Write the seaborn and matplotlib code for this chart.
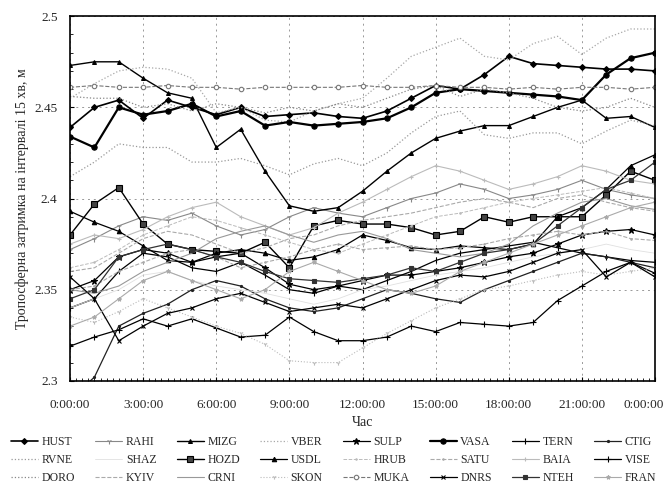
import matplotlib
matplotlib.use('Agg')
import matplotlib.pyplot as plt
import matplotlib.transforms as mtransforms
import seaborn as sns
from matplotlib.ticker import MultipleLocator, FixedLocator

# Години доби (вузли через 1 год)
hours = list(range(25))

HUST = [2.439, 2.450, 2.454, 2.444, 2.454, 2.450, 2.446, 2.450, 2.445, 2.446, 2.447, 2.445, 2.444,
        2.448, 2.455, 2.462, 2.460, 2.468, 2.478, 2.474, 2.473, 2.472, 2.471, 2.471, 2.470]
RAHI = [2.372, 2.378, 2.385, 2.390, 2.388, 2.392, 2.385, 2.380, 2.383, 2.390, 2.395, 2.392, 2.390,
        2.395, 2.400, 2.403, 2.408, 2.405, 2.400, 2.402, 2.405, 2.410, 2.405, 2.402, 2.400]
MIZG = [2.473, 2.475, 2.475, 2.466, 2.458, 2.455, 2.428, 2.438, 2.415, 2.396, 2.393, 2.395, 2.404,
        2.415, 2.425, 2.433, 2.437, 2.440, 2.440, 2.445, 2.450, 2.454, 2.444, 2.445, 2.439]
VBER = [2.455, 2.463, 2.470, 2.472, 2.471, 2.466, 2.447, 2.450, 2.443, 2.442, 2.448, 2.452, 2.455,
        2.466, 2.478, 2.483, 2.488, 2.478, 2.476, 2.485, 2.489, 2.479, 2.488, 2.493, 2.493]
SULP = [2.350, 2.355, 2.368, 2.372, 2.370, 2.365, 2.368, 2.370, 2.362, 2.353, 2.350, 2.352, 2.355,
        2.358, 2.358, 2.360, 2.362, 2.365, 2.368, 2.370, 2.375, 2.380, 2.382, 2.383, 2.380]
VASA = [2.434, 2.428, 2.450, 2.446, 2.448, 2.452, 2.445, 2.448, 2.440, 2.442, 2.440, 2.441, 2.442,
        2.444, 2.450, 2.458, 2.460, 2.459, 2.458, 2.457, 2.456, 2.454, 2.468, 2.477, 2.480]
TERN = [2.340, 2.345, 2.360, 2.370, 2.368, 2.362, 2.360, 2.365, 2.358, 2.350, 2.348, 2.352, 2.350,
        2.355, 2.360, 2.366, 2.370, 2.372, 2.374, 2.376, 2.373, 2.370, 2.368, 2.366, 2.365]
CTIG = [2.290, 2.302, 2.330, 2.337, 2.342, 2.350, 2.355, 2.352, 2.345, 2.340, 2.338, 2.340, 2.345,
        2.350, 2.348, 2.345, 2.343, 2.350, 2.355, 2.360, 2.365, 2.370, 2.368, 2.365, 2.362]
RVNE = [2.412, 2.420, 2.430, 2.428, 2.428, 2.420, 2.420, 2.422, 2.418, 2.413, 2.419, 2.422, 2.418,
        2.425, 2.436, 2.445, 2.448, 2.435, 2.433, 2.436, 2.436, 2.430, 2.437, 2.443, 2.440]
SHAZ = [2.340, 2.345, 2.350, 2.358, 2.360, 2.355, 2.352, 2.350, 2.348, 2.345, 2.342, 2.345, 2.350,
        2.352, 2.355, 2.358, 2.360, 2.362, 2.365, 2.368, 2.370, 2.372, 2.375, 2.372, 2.370]
HOZD = [2.380, 2.397, 2.406, 2.386, 2.375, 2.372, 2.371, 2.370, 2.376, 2.362, 2.385, 2.388, 2.386,
        2.386, 2.384, 2.380, 2.382, 2.390, 2.387, 2.390, 2.390, 2.390, 2.402, 2.415, 2.410]
USDL = [2.393, 2.387, 2.382, 2.374, 2.366, 2.365, 2.370, 2.372, 2.370, 2.366, 2.368, 2.372, 2.380,
        2.377, 2.373, 2.372, 2.374, 2.373, 2.372, 2.375, 2.390, 2.395, 2.405, 2.418, 2.424]
HRUB = [2.362, 2.365, 2.372, 2.380, 2.385, 2.390, 2.388, 2.384, 2.380, 2.376, 2.372, 2.370, 2.375,
        2.380, 2.385, 2.390, 2.392, 2.395, 2.398, 2.400, 2.402, 2.404, 2.406, 2.403, 2.400]
SATU = [2.350, 2.352, 2.360, 2.365, 2.370, 2.372, 2.368, 2.362, 2.365, 2.368, 2.372, 2.375, 2.372,
        2.373, 2.374, 2.372, 2.373, 2.375, 2.378, 2.380, 2.382, 2.380, 2.382, 2.378, 2.377]
BAIA = [2.375, 2.380, 2.378, 2.383, 2.390, 2.395, 2.398, 2.390, 2.385, 2.380, 2.384, 2.392, 2.398,
        2.405, 2.412, 2.418, 2.415, 2.410, 2.405, 2.408, 2.412, 2.418, 2.415, 2.410, 2.408]
VISE = [2.319, 2.324, 2.328, 2.334, 2.330, 2.334, 2.329, 2.324, 2.325, 2.335, 2.327, 2.322, 2.322,
        2.324, 2.330, 2.327, 2.332, 2.331, 2.330, 2.332, 2.344, 2.352, 2.360, 2.365, 2.359]
DORO = [2.456, 2.455, 2.455, 2.450, 2.452, 2.448, 2.452, 2.450, 2.447, 2.450, 2.448, 2.452, 2.450,
        2.455, 2.460, 2.462, 2.456, 2.460, 2.458, 2.455, 2.450, 2.448, 2.450, 2.455, 2.450]
KYIV = [2.360, 2.362, 2.370, 2.378, 2.382, 2.380, 2.375, 2.370, 2.373, 2.378, 2.380, 2.385, 2.388,
        2.390, 2.392, 2.395, 2.398, 2.400, 2.398, 2.395, 2.400, 2.402, 2.398, 2.395, 2.393]
CRNI = [2.350, 2.348, 2.352, 2.360, 2.365, 2.370, 2.378, 2.382, 2.385, 2.380, 2.376, 2.380, 2.382,
        2.378, 2.372, 2.370, 2.368, 2.370, 2.375, 2.385, 2.392, 2.398, 2.400, 2.396, 2.394]
SKON = [2.335, 2.332, 2.338, 2.345, 2.340, 2.335, 2.330, 2.326, 2.320, 2.311, 2.310, 2.310, 2.318,
        2.326, 2.333, 2.340, 2.345, 2.350, 2.352, 2.355, 2.358, 2.360, 2.358, 2.360, 2.362]
MUKA = [2.461, 2.462, 2.461, 2.461, 2.462, 2.461, 2.461, 2.460, 2.461, 2.461, 2.461, 2.461, 2.462,
        2.461, 2.461, 2.462, 2.461, 2.461, 2.460, 2.461, 2.460, 2.461, 2.461, 2.460, 2.461]
DNRS = [2.357, 2.345, 2.322, 2.330, 2.337, 2.340, 2.345, 2.348, 2.343, 2.338, 2.340, 2.342, 2.340,
        2.345, 2.350, 2.355, 2.358, 2.357, 2.360, 2.365, 2.370, 2.372, 2.357, 2.365, 2.357]
NTEH = [2.345, 2.350, 2.368, 2.372, 2.375, 2.372, 2.368, 2.365, 2.360, 2.356, 2.355, 2.354, 2.356,
        2.358, 2.362, 2.360, 2.365, 2.370, 2.372, 2.375, 2.385, 2.395, 2.405, 2.410, 2.420]
FRAN = [2.330, 2.335, 2.345, 2.355, 2.360, 2.355, 2.350, 2.345, 2.350, 2.360, 2.365, 2.360, 2.355,
        2.350, 2.348, 2.352, 2.360, 2.365, 2.370, 2.375, 2.380, 2.385, 2.390, 2.395, 2.398]

stations = ['HUST', 'RAHI', 'MIZG', 'VBER', 'SULP', 'VASA', 'TERN', 'CTIG',
            'RVNE', 'SHAZ', 'HOZD', 'USDL', 'HRUB', 'SATU', 'BAIA', 'VISE',
            'DORO', 'KYIV', 'CRNI', 'SKON', 'MUKA', 'DNRS', 'NTEH', 'FRAN']
series = [HUST, RAHI, MIZG, VBER, SULP, VASA, TERN, CTIG,
          RVNE, SHAZ, HOZD, USDL, HRUB, SATU, BAIA, VISE,
          DORO, KYIV, CRNI, SKON, MUKA, DNRS, NTEH, FRAN]

x_ticks = [0, 3, 6, 9, 12, 15, 18, 21, 24]
x_labels = ['0:00:00', '3:00:00', '6:00:00', '9:00:00', '12:00:00',
            '15:00:00', '18:00:00', '21:00:00', '0:00:00']
y_ticks = [2.3, 2.35, 2.4, 2.45, 2.5]

# стиль: колір, товщина, тип лінії, маркер, розмір маркера, заливка маркера
styles = {
    'HUST': ('black', 1.2, '-', 'D', 3.0, 'black'),
    'RAHI': ('#888888', 0.8, '-', '1', 4.0, '#888888'),
    'MIZG': ('black', 1.0, '-', '^', 2.8, 'black'),
    'VBER': ('#a8a8a8', 0.9, ':', None, 0, None),
    'SULP': ('black', 0.9, '-', '*', 4.5, 'black'),
    'VASA': ('black', 1.6, '-', 'o', 3.8, 'black'),
    'TERN': ('black', 0.9, '-', '|', 4.5, 'black'),
    'CTIG': ('#222222', 0.9, '-', '.', 3.0, '#222222'),
    'RVNE': ('#999999', 0.9, ':', None, 0, None),
    'SHAZ': ('#e0e0e0', 0.6, '-', None, 0, None),
    'HOZD': ('black', 1.0, '-', 's', 3.8, '#444444'),
    'USDL': ('black', 0.9, '-', '^', 3.2, 'black'),
    'HRUB': ('#bbbbbb', 0.7, '--', '.', 2.0, '#bbbbbb'),
    'SATU': ('#aaaaaa', 0.8, '--', '.', 2.0, '#aaaaaa'),
    'BAIA': ('#bbbbbb', 0.8, '-', '+', 3.0, '#bbbbbb'),
    'VISE': ('black', 0.9, '-', '+', 5.0, 'black'),
    'DORO': ('#888888', 0.9, ':', None, 0, None),
    'KYIV': ('#aaaaaa', 0.8, '--', None, 0, None),
    'CRNI': ('#999999', 0.8, '-', None, 0, None),
    'SKON': ('#bbbbbb', 0.8, ':', '1', 3.0, '#bbbbbb'),
    'MUKA': ('#777777', 0.8, '--', 'o', 3.2, 'white'),
    'DNRS': ('black', 0.9, '-', 'x', 3.5, 'black'),
    'NTEH': ('#333333', 0.9, '-', 's', 2.5, '#333333'),
    'FRAN': ('#aaaaaa', 0.8, '-', '*', 3.0, '#aaaaaa'),
}

sns.set_style("white")
plt.rcParams['font.family'] = ['Liberation Serif', 'DejaVu Serif']

fig = plt.figure(figsize=(6.67, 4.92), dpi=100)
ax = fig.add_axes([0.105, 0.226, 0.877, 0.741])

for name, vals in zip(stations, series):
    color, lw, ls, marker, ms, mfc = styles[name]
    kw = dict(color=color, linewidth=lw, linestyle=ls, label=name)
    if marker is not None:
        kw.update(marker=marker, markersize=ms, markerfacecolor=mfc,
                  markeredgecolor=color, markeredgewidth=0.8)
    sns.lineplot(x=hours, y=vals, ax=ax, **kw)

# seaborn сам додає легенду в осі - прибираємо
if ax.get_legend() is not None:
    ax.get_legend().remove()

ax.set_xlim(0, 24)
ax.set_ylim(2.3, 2.5)
ax.xaxis.set_major_locator(FixedLocator(x_ticks))
ax.set_xticklabels(x_labels)
ax.xaxis.set_minor_locator(MultipleLocator(0.25))
ax.yaxis.set_major_locator(FixedLocator(y_ticks))
ax.set_yticklabels([f'{v:g}' for v in y_ticks])
ax.yaxis.set_minor_locator(MultipleLocator(0.01))
ax.tick_params(axis='both', which='major', labelsize=9.5, direction='in', length=3,
               color='black')
ax.tick_params(axis='x', which='major', pad=13)
ax.tick_params(axis='y', which='major', pad=9)
ax.tick_params(axis='both', which='minor', direction='in', length=2, color='black')
ax.tick_params(axis='x', bottom=True, which='both')
ax.tick_params(axis='y', left=True, which='both')

# остання мітка в оригіналі притиснута до правого краю
last = ax.get_xticklabels()[-1]
last.set_horizontalalignment('right')
last.set_transform(last.get_transform() +
                   mtransforms.ScaledTranslation(9 / 100, 0, fig.dpi_scale_trans))

ax.grid(True, which='major', color='#999999', linestyle=(0, (2, 4)), linewidth=0.7)
for sp in ax.spines.values():
    sp.set_color('black')
    sp.set_linewidth(1.2)

ax.set_xlabel('Час', fontsize=10, labelpad=4)
ax.set_ylabel('Тропосферна затримка на інтервалі 15 хв, м', fontsize=10)

# легенда: 3 рядки по 8, заповнення по рядках
handles, labels = ax.get_legend_handles_labels()
order = [r * 8 + c for c in range(8) for r in range(3)]
fig.legend([handles[i] for i in order], [labels[i] for i in order],
           loc='lower center', bbox_to_anchor=(0.5, -0.005), ncol=8, frameon=False,
           fontsize=8.5, handlelength=2.3, handletextpad=0.3, columnspacing=1.7,
           labelspacing=0.5)

fig.savefig('out.png', dpi=100)
plt.close()
